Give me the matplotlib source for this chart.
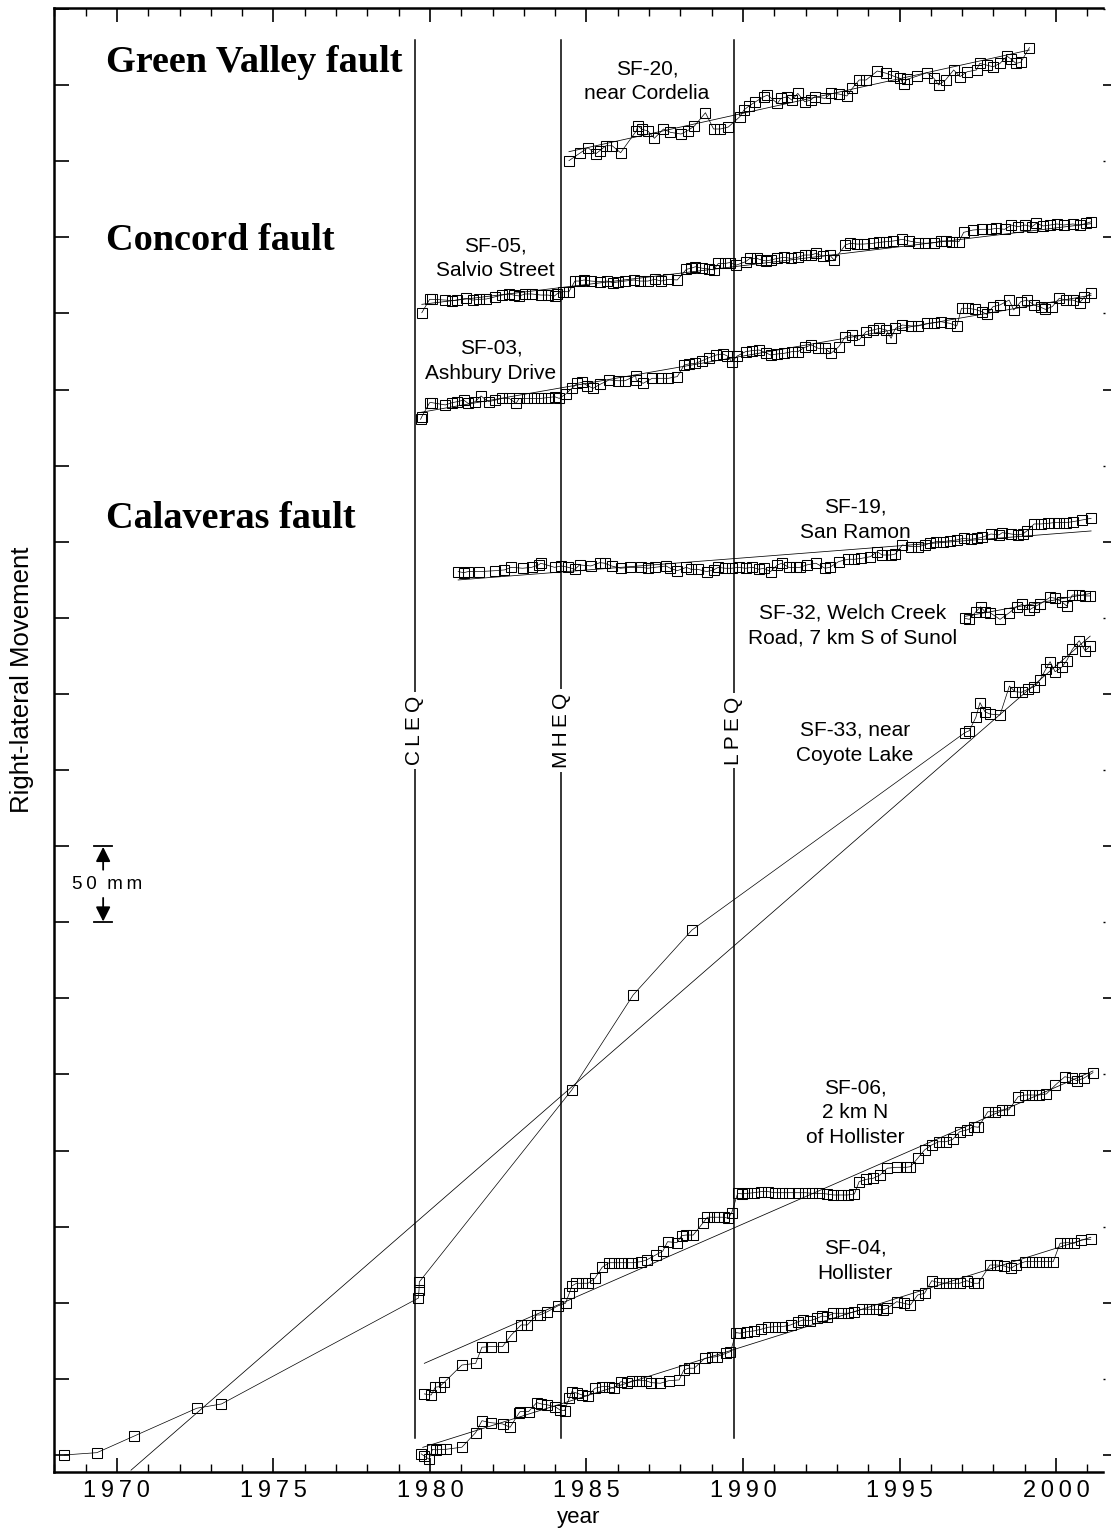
import matplotlib
matplotlib.use("Agg")
import matplotlib.pyplot as plt
from matplotlib.ticker import MultipleLocator

plt.rcParams["font.family"] = ["Liberation Sans", "DejaVu Sans"]

# ---- data: year, right-lateral movement (mm, stations offset for display) ----
sf20_t = [1984.44, 1984.78, 1985.05, 1985.29, 1985.43, 1985.62, 1985.82, 1986.09, 1986.59, 1986.64,
          1986.77, 1986.96, 1987.17, 1987.46, 1987.68, 1988.02, 1988.23, 1988.45, 1988.80, 1989.06,
          1989.28, 1989.53, 1989.90, 1990.03, 1990.19, 1990.37, 1990.66, 1990.78, 1991.10, 1991.21,
          1991.42, 1991.56, 1991.75, 1991.97, 1992.16, 1992.29, 1992.62, 1992.81, 1993.06, 1993.32,
          1993.49, 1993.71, 1993.93, 1994.29, 1994.58, 1994.80, 1995.02, 1995.13, 1995.23, 1995.57,
          1995.88, 1996.10, 1996.25, 1996.47, 1996.73, 1996.93, 1997.16, 1997.46, 1997.56, 1997.78,
          1997.99, 1998.21, 1998.43, 1998.57, 1998.72, 1998.87, 1999.15]
sf20_y = [850.4, 855.2, 858.9, 854.8, 857.0, 860.2, 860.2, 855.6, 869.9, 873.3,
          871.0, 869.9, 865.1, 871.2, 869.0, 867.9, 870.1, 873.2, 881.9, 871.2,
          871.2, 872.5, 879.3, 883.7, 886.3, 888.7, 892.4, 893.5, 888.0, 891.3,
          892.4, 890.2, 894.6, 889.1, 890.2, 892.4, 891.3, 894.6, 894.2, 892.9,
          897.9, 903.4, 903.4, 909.3, 907.8, 906.0, 904.5, 900.5, 903.8, 906.0,
          908.2, 904.5, 900.1, 903.4, 910.0, 905.6, 908.8, 910.0, 914.3, 913.2,
          912.1, 914.3, 919.1, 917.0, 914.3, 915.0, 924.7]
sf20_fit_t = [1984.44, 1999.15]
sf20_fit_y = [856.3, 923.1]

sf05_t = [1979.74, 1979.99, 1980.06, 1980.49, 1980.71, 1980.86, 1981.15, 1981.37, 1981.58, 1981.80,
          1982.09, 1982.31, 1982.53, 1982.67, 1982.85, 1983.04, 1983.25, 1983.54, 1983.76, 1983.98,
          1984.05, 1984.24, 1984.44, 1984.63, 1984.78, 1984.92, 1985.14, 1985.43, 1985.65, 1985.84,
          1986.01, 1986.23, 1986.52, 1986.71, 1986.96, 1987.18, 1987.39, 1987.61, 1987.90, 1988.19,
          1988.34, 1988.48, 1988.70, 1988.92, 1989.06, 1989.21, 1989.43, 1989.57, 1989.79, 1990.08,
          1990.22, 1990.44, 1990.59, 1990.73, 1990.88, 1991.10, 1991.31, 1991.53, 1991.75, 1991.97,
          1992.18, 1992.33, 1992.55, 1992.77, 1992.91, 1993.27, 1993.42, 1993.64, 1993.85, 1994.15,
          1994.36, 1994.58, 1994.80, 1995.09, 1995.31, 1995.60, 1995.82, 1996.11, 1996.32, 1996.47,
          1996.69, 1996.90, 1997.05, 1997.34, 1997.63, 1997.92, 1998.07, 1998.36, 1998.57, 1998.79,
          1999.01, 1999.23, 1999.37, 1999.59, 1999.81, 2000.03, 2000.24, 2000.54, 2000.75, 2000.97,
          2001.12]
sf05_y = [750.5, 759.3, 759.3, 758.8, 758.4, 758.8, 759.9, 758.8, 759.3, 759.5,
          761.0, 762.1, 762.8, 762.1, 761.5, 762.8, 762.8, 762.1, 762.1, 761.5,
          762.8, 764.3, 764.3, 771.3, 771.3, 772.0, 771.3, 770.9, 771.3, 770.2,
          770.7, 771.3, 772.0, 771.3, 771.3, 772.4, 771.3, 772.4, 772.0, 779.0,
          779.7, 780.7, 779.7, 779.2, 778.6, 782.9, 782.9, 783.4, 781.8, 784.0,
          786.2, 786.2, 785.1, 784.5, 785.1, 786.2, 786.9, 786.2, 786.9, 788.4,
          788.4, 789.5, 787.7, 788.4, 785.1, 795.0, 796.1, 795.6, 795.6, 796.1,
          796.7, 797.2, 797.6, 798.7, 797.6, 796.5, 796.1, 796.5, 797.6, 797.6,
          797.2, 797.2, 803.3, 804.8, 805.3, 805.3, 805.9, 805.3, 808.1, 807.0,
          808.1, 807.0, 809.2, 807.5, 808.1, 808.8, 808.1, 808.8, 808.1, 809.2,
          810.3]
sf05_fit_t = [1979.74, 2001.12]
sf05_fit_y = [756.0, 809.0]

sf03_t = [1979.70, 1979.74, 1979.99, 1980.06, 1980.49, 1980.71, 1980.86, 1981.08, 1981.22, 1981.44,
          1981.63, 1981.87, 1982.09, 1982.31, 1982.53, 1982.75, 1982.85, 1983.11, 1983.33, 1983.54,
          1983.76, 1983.98, 1984.13, 1984.34, 1984.53, 1984.71, 1984.85, 1985.03, 1985.21, 1985.43,
          1985.72, 1986.01, 1986.23, 1986.57, 1986.59, 1986.81, 1987.10, 1987.39, 1987.61, 1987.90,
          1988.12, 1988.26, 1988.48, 1988.70, 1988.92, 1989.14, 1989.35, 1989.50, 1989.64, 1989.82,
          1990.08, 1990.30, 1990.51, 1990.73, 1990.88, 1991.10, 1991.31, 1991.56, 1991.75, 1991.97,
          1992.18, 1992.40, 1992.62, 1992.81, 1993.06, 1993.27, 1993.49, 1993.71, 1993.93, 1994.15,
          1994.36, 1994.58, 1994.73, 1994.87, 1995.09, 1995.38, 1995.60, 1995.89, 1996.11, 1996.32,
          1996.61, 1996.83, 1996.98, 1997.19, 1997.41, 1997.63, 1997.78, 1997.99, 1998.21, 1998.50,
          1998.65, 1998.87, 1999.08, 1999.30, 1999.52, 1999.66, 1999.88, 2000.10, 2000.32, 2000.54,
          2000.75, 2000.90, 2001.12]
sf03_y = [680.4, 682.2, 691.4, 691.4, 689.9, 691.4, 692.0, 693.1, 690.9, 692.0,
          695.8, 692.0, 693.1, 694.2, 694.2, 690.9, 694.2, 694.2, 694.2, 694.2,
          694.7, 695.3, 694.2, 697.1, 700.8, 704.1, 704.7, 702.6, 700.8, 703.4,
          706.3, 705.8, 705.8, 709.1, 706.3, 704.1, 707.4, 707.4, 707.4, 708.5,
          716.1, 716.8, 717.2, 719.0, 721.0, 722.7, 723.4, 722.1, 718.3, 722.1,
          724.9, 725.6, 726.0, 724.2, 722.7, 723.4, 723.8, 724.9, 724.9, 727.7,
          729.3, 727.1, 727.1, 723.8, 728.2, 734.7, 735.8, 732.6, 738.0, 739.1,
          740.2, 739.1, 733.7, 740.2, 742.4, 741.8, 741.8, 743.5, 743.9, 744.6,
          743.5, 741.8, 753.4, 753.4, 752.7, 751.2, 749.4, 754.5, 755.6, 758.8,
          752.3, 757.7, 758.8, 755.6, 754.0, 752.7, 754.5, 759.9, 758.8, 758.8,
          757.1, 760.6, 763.2]
sf03_fit_t = [1979.70, 2001.12]
sf03_fit_y = [685.0, 762.0]

sf19_t = [1980.90, 1981.08, 1981.22, 1981.58, 1982.09, 1982.38, 1982.60, 1982.96, 1983.25, 1983.47,
          1983.54, 1983.98, 1984.20, 1984.42, 1984.63, 1984.78, 1985.14, 1985.43, 1985.58, 1985.80,
          1986.09, 1986.38, 1986.74, 1986.96, 1987.18, 1987.54, 1987.68, 1987.90, 1988.19, 1988.34,
          1988.55, 1988.84, 1989.06, 1989.21, 1989.43, 1989.64, 1989.86, 1990.08, 1990.30, 1990.51,
          1990.66, 1990.88, 1991.10, 1991.24, 1991.46, 1991.68, 1991.82, 1992.04, 1992.33, 1992.62,
          1992.77, 1993.06, 1993.35, 1993.56, 1993.78, 1994.07, 1994.29, 1994.44, 1994.73, 1994.87,
          1995.09, 1995.38, 1995.60, 1995.82, 1995.96, 1996.18, 1996.40, 1996.61, 1996.83, 1997.05,
          1997.27, 1997.49, 1997.63, 1997.92, 1998.18, 1998.28, 1998.57, 1998.79, 1998.94, 1999.08,
          1999.30, 1999.52, 1999.74, 1999.95, 2000.10, 2000.32, 2000.54, 2000.83, 2001.12]
sf19_y = [580.4, 579.7, 580.4, 580.4, 581.0, 581.5, 583.2, 582.6, 583.2, 584.8,
          585.9, 583.2, 584.1, 583.2, 581.9, 584.8, 584.1, 586.3, 585.9, 584.1,
          582.6, 583.2, 583.2, 582.6, 583.2, 584.1, 582.6, 581.0, 583.2, 581.9,
          581.9, 580.4, 581.5, 583.2, 582.6, 582.6, 583.2, 582.6, 583.2, 581.9,
          582.6, 580.4, 584.8, 585.9, 583.2, 583.2, 583.2, 584.8, 585.9, 582.6,
          583.2, 587.0, 588.5, 588.5, 589.1, 590.2, 593.5, 591.3, 591.3, 592.0,
          597.9, 596.8, 596.8, 597.9, 599.0, 600.1, 600.1, 600.7, 601.2, 602.3,
          601.6, 602.3, 602.9, 605.1, 604.5, 606.0, 605.1, 604.5, 605.1, 607.3,
          611.7, 611.7, 612.1, 612.6, 612.6, 612.6, 613.2, 614.3, 615.4]
sf19_fit_t = [1980.90, 2001.12]
sf19_fit_y = [574.9, 607.1]

sf32_t = [1997.09, 1997.23, 1997.44, 1997.59, 1997.73, 1997.89, 1998.21, 1998.51, 1998.74, 1998.92,
          1999.15, 1999.31, 1999.49, 1999.81, 1999.97, 2000.18, 2000.34, 2000.52, 2000.74, 2000.93,
          2001.09]
sf32_y = [549.7, 549.0, 554.0, 557.3, 554.0, 553.4, 549.0, 553.4, 557.3, 558.9,
          555.2, 557.3, 559.1, 563.5, 562.9, 560.6, 557.8, 565.0, 565.0, 564.4,
          564.4]
sf32_fit_t = [1997.09, 2001.09]
sf32_fit_y = [551.0, 566.0]

sf33_t = [1968.32, 1969.36, 1970.56, 1972.55, 1973.34, 1979.63, 1979.65, 1979.66, 1984.53, 1986.49,
          1988.37, 1997.09, 1997.23, 1997.44, 1997.57, 1997.73, 1997.89, 1998.21, 1998.51, 1998.69,
          1998.90, 1999.10, 1999.31, 1999.49, 1999.67, 1999.81, 1999.97, 2000.18, 2000.34, 2000.52,
          2000.74, 2000.93, 2001.09]
sf33_y = [0.0, 1.5, 12.5, 30.7, 33.5, 103.1, 108.4, 113.7, 239.8, 302.2,
          344.9, 474.6, 475.9, 484.7, 494.3, 488.3, 486.8, 486.2, 505.2, 501.5,
          501.1, 503.1, 504.8, 509.2, 516.2, 521.2, 514.6, 517.5, 521.9, 529.3,
          535.0, 528.4, 531.5]
sf33_fit_t = [1970.45, 2001.09]
sf33_fit_y = [-10.0, 538.0]

sf06_t = [1979.82, 1980.04, 1980.17, 1980.31, 1980.46, 1981.02, 1981.46, 1981.66, 1981.94, 1982.32,
          1982.58, 1982.91, 1983.11, 1983.41, 1983.51, 1983.75, 1984.08, 1984.33, 1984.45, 1984.53,
          1984.68, 1984.86, 1985.05, 1985.27, 1985.50, 1985.72, 1985.87, 1986.10, 1986.32, 1986.47,
          1986.74, 1986.92, 1987.21, 1987.44, 1987.59, 1987.89, 1988.04, 1988.19, 1988.41, 1988.71,
          1988.86, 1989.08, 1989.23, 1989.38, 1989.53, 1989.64, 1989.83, 1989.98, 1990.13, 1990.35,
          1990.58, 1990.80, 1991.02, 1991.25, 1991.47, 1991.77, 1991.99, 1992.22, 1992.44, 1992.67,
          1992.89, 1993.12, 1993.34, 1993.56, 1993.71, 1993.94, 1994.16, 1994.38, 1994.61, 1994.91,
          1995.21, 1995.35, 1995.58, 1995.80, 1996.03, 1996.25, 1996.48, 1996.70, 1996.92, 1997.15,
          1997.37, 1997.52, 1997.82, 1998.04, 1998.27, 1998.49, 1998.79, 1999.01, 1999.24, 1999.46,
          1999.69, 1999.98, 2000.28, 2000.51, 2000.66, 2000.88, 2001.18]
sf06_y = [40.1, 39.4, 44.5, 44.9, 47.8, 59.1, 60.2, 70.8, 71.2, 71.2,
          78.4, 85.4, 85.4, 92.0, 92.0, 94.1, 97.9, 99.7, 106.2, 111.0,
          112.8, 112.8, 112.8, 116.1, 123.3, 126.3, 126.3, 126.3, 126.3, 126.3,
          127.0, 128.1, 131.4, 134.0, 140.1, 139.5, 144.1, 144.5, 144.5, 152.2,
          156.2, 156.2, 156.2, 156.2, 155.5, 159.2, 171.9, 171.5, 171.9, 172.3,
          173.0, 173.0, 172.3, 172.3, 172.3, 172.3, 172.3, 171.9, 171.9, 171.5,
          170.8, 170.8, 170.8, 171.5, 179.6, 181.1, 181.8, 184.0, 188.4, 189.0,
          189.0, 189.4, 194.9, 200.4, 203.7, 205.8, 205.8, 207.4, 212.4, 213.5,
          215.7, 215.3, 225.5, 225.5, 226.7, 226.7, 235.4, 236.5, 236.5, 236.5,
          237.2, 243.1, 248.5, 247.5, 245.9, 247.5, 251.2]
sf06_fit_t = [1979.82, 2001.18]
sf06_fit_y = [60.2, 252.3]

sf04_t = [1979.72, 1979.82, 1979.97, 1980.08, 1980.19, 1980.31, 1980.50, 1981.02, 1981.46, 1981.66,
          1981.94, 1982.32, 1982.56, 1982.84, 1982.88, 1983.15, 1983.41, 1983.56, 1983.75, 1984.00,
          1984.15, 1984.30, 1984.45, 1984.53, 1984.71, 1984.86, 1985.05, 1985.27, 1985.50, 1985.72,
          1985.87, 1986.10, 1986.29, 1986.47, 1986.69, 1986.89, 1987.07, 1987.36, 1987.63, 1987.96,
          1988.11, 1988.26, 1988.44, 1988.78, 1989.01, 1989.16, 1989.46, 1989.60, 1989.78, 1989.90,
          1990.13, 1990.35, 1990.58, 1990.80, 1991.02, 1991.25, 1991.52, 1991.77, 1991.92, 1992.14,
          1992.37, 1992.52, 1992.67, 1992.89, 1993.12, 1993.34, 1993.56, 1993.79, 1994.01, 1994.24,
          1994.46, 1994.61, 1994.91, 1995.13, 1995.35, 1995.58, 1995.80, 1996.03, 1996.25, 1996.48,
          1996.70, 1996.92, 1997.15, 1997.37, 1997.52, 1997.89, 1998.12, 1998.34, 1998.57, 1998.72,
          1999.01, 1999.24, 1999.46, 1999.69, 1999.91, 2000.13, 2000.36, 2000.58, 2000.81, 2001.11]
sf04_y = [0.7, -0.7, -2.8, 3.7, 3.3, 3.7, 3.7, 5.1, 14.7, 22.5,
          21.2, 20.4, 18.2, 27.4, 28.5, 28.5, 34.4, 33.5, 32.9, 31.7,
          29.6, 29.1, 37.3, 41.6, 40.5, 39.4, 38.8, 43.8, 44.9, 44.9,
          43.8, 48.2, 47.1, 48.8, 48.8, 48.8, 47.5, 47.1, 48.8, 49.3,
          55.8, 57.0, 57.0, 63.5, 64.2, 64.6, 66.8, 67.9, 80.4, 80.0,
          81.0, 81.5, 82.6, 83.9, 84.3, 84.3, 85.4, 87.6, 88.7, 88.2,
          89.8, 91.3, 90.9, 93.1, 93.1, 93.1, 94.1, 95.7, 95.7, 95.7,
          95.3, 96.4, 100.7, 99.7, 98.6, 105.1, 106.2, 114.5, 113.2, 112.8,
          112.8, 112.8, 114.5, 112.8, 112.8, 124.8, 124.8, 124.2, 122.7, 124.8,
          127.0, 127.0, 127.0, 127.0, 127.0, 139.1, 139.5, 139.1, 141.3, 141.7]
sf04_fit_t = [1979.77, 2001.11]
sf04_fit_y = [5.0, 143.0]

# earthquakes: Coyote Lake, Morgan Hill, Loma Prieta
eq_names = ["CLEQ", "MHEQ", "LPEQ"]
eq_years = [1979.52, 1984.19, 1989.71]

series = [
    (sf20_t, sf20_y, sf20_fit_t, sf20_fit_y),
    (sf05_t, sf05_y, sf05_fit_t, sf05_fit_y),
    (sf03_t, sf03_y, sf03_fit_t, sf03_fit_y),
    (sf19_t, sf19_y, sf19_fit_t, sf19_fit_y),
    (sf32_t, sf32_y, sf32_fit_t, sf32_fit_y),
    (sf33_t, sf33_y, sf33_fit_t, sf33_fit_y),
    (sf06_t, sf06_y, sf06_fit_t, sf06_fit_y),
    (sf04_t, sf04_y, sf04_fit_t, sf04_fit_y),
]

station_labels = [
    ("SF-20,\nnear Cordelia", 1986.93, 902.5),
    ("SF-05,\nSalvio Street", 1982.08, 786.4),
    ("SF-03,\nAshbury Drive", 1981.95, 718.8),
    ("SF-19,\nSan Ramon", 1993.58, 614.6),
    ("SF-32, Welch Creek\nRoad, 7 km S of Sunol", 1993.51, 544.7),
    ("SF-33, near\nCoyote Lake", 1993.58, 467.8),
    ("SF-06,\n2 km N\nof Hollister", 1993.58, 224.7),
    ("SF-04,\nHollister", 1993.58, 127.5),
]
fault_labels = [("Green Valley fault", 915.2), ("Concord fault", 798.2), ("Calaveras fault", 615.6)]

TS = "\u2009"  # thin space for letter spacing


def spaced(s):
    return TS.join(s)


W, H = 1113, 1532
fig = plt.figure(figsize=(W / 100, H / 100), dpi=100)
ax = fig.add_axes([54 / W, (H - 1472) / H, (1103 - 54) / W, (1472 - 8) / H])
ax.set_xlim(1967.99, 2001.5)
ax.set_ylim(-11.2, 950.7)

for t, y, ft, fy in series:
    ax.plot(ft, fy, color="k", lw=0.55, zorder=2)
    ax.plot(t, y, color="k", lw=0.5, marker="s", ms=6.8, mfc="none", mec="k", mew=0.75, zorder=3)

for name, yr in zip(eq_names, eq_years):
    ax.plot([yr, yr], [11.2, 929.7], color="k", lw=1.1, zorder=1)
    ax.text(yr, 476.0, spaced(name), rotation=90, ha="center", va="center", fontsize=15,
            bbox=dict(facecolor="white", edgecolor="none", pad=2.5), zorder=4)

for txt, x, y in station_labels:
    ax.text(x, y, txt, ha="center", va="center", fontsize=15, linespacing=1.4, zorder=5)

for txt, y in fault_labels:
    ax.text(1969.65, y, txt, ha="left", va="center", fontsize=27.5, fontweight="bold",
            family="Liberation Serif", zorder=5)

# 50 mm scale bar
bx = 1969.56
ax.plot([bx - 0.28, bx + 0.28], [400, 400], color="k", lw=1.3)
ax.plot([bx - 0.28, bx + 0.28], [350, 350], color="k", lw=1.3)
arrow = dict(arrowstyle="-|>", color="k", lw=1.3, mutation_scale=22, shrinkA=0, shrinkB=0)
ax.annotate("", xy=(bx, 399.5), xytext=(bx, 384.5), arrowprops=arrow)
ax.annotate("", xy=(bx, 350.5), xytext=(bx, 366), arrowprops=arrow)
ax.text(bx + 0.14, 375, spaced("50") + "  " + spaced("mm"), ha="center", va="center", fontsize=13.5)

# axes styling
for side in ["left", "bottom", "top"]:
    ax.spines[side].set_linewidth(1.8)
ax.spines["right"].set_visible(False)
ax.xaxis.set_major_locator(MultipleLocator(5))
ax.xaxis.set_minor_locator(MultipleLocator(1))
ax.yaxis.set_major_locator(MultipleLocator(50))
ax.tick_params(axis="x", which="major", direction="in", length=10, width=1.2, top=True, labelsize=17, pad=6)
ax.tick_params(axis="x", which="minor", direction="in", length=5.5, width=1.0, top=True)
ax.tick_params(axis="y", which="major", direction="in", length=11, width=1.2, labelleft=False)
ax.set_xticks([1970, 1975, 1980, 1985, 1990, 1995, 2000])
ax.set_xticklabels([spaced(str(v)) for v in [1970, 1975, 1980, 1985, 1990, 1995, 2000]])
ax.set_xlabel("year", fontsize=16, labelpad=3)

ax2 = ax.twinx()
ax2.set_ylim(ax.get_ylim())
for side in ["left", "right", "top", "bottom"]:
    ax2.spines[side].set_visible(False)
ax2.yaxis.set_major_locator(MultipleLocator(100))
ax2.yaxis.set_minor_locator(MultipleLocator(50))
ax2.tick_params(axis="y", which="major", direction="out", length=6, width=1.2, labelright=False)
ax2.tick_params(axis="y", which="minor", direction="out", length=1.5, width=1.0)

fig.text(22 / W, 1 - 680 / H, "Right-lateral Movement", rotation=90, ha="center", va="center", fontsize=18.5)

fig.savefig("out.png", dpi=100)
